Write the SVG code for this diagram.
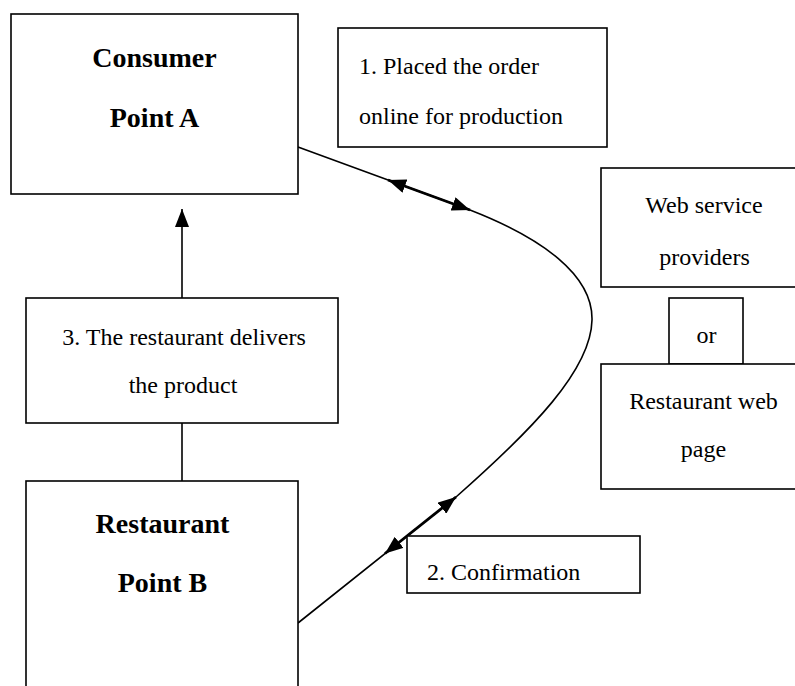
<svg xmlns="http://www.w3.org/2000/svg" width="795" height="686" viewBox="0 0 795 686">
  <style>
    .box { fill: #ffffff; stroke: #000000; stroke-width: 1.6; }
    .link { fill: none; stroke: #000000; stroke-width: 1.6; }
    .thick { fill: none; stroke: #000000; stroke-width: 2.8; }
    .txt { font-family: "Liberation Serif", "Times New Roman", serif; font-size: 24px; fill: #000000; }
    .bold { font-family: "Liberation Serif", "Times New Roman", serif; font-size: 28px; font-weight: bold; fill: #000000; }
    .mid { text-anchor: middle; }
  </style>
  <defs>
    <marker id="head" markerUnits="userSpaceOnUse" viewBox="0 0 18 14" refX="18" refY="7" markerWidth="18" markerHeight="14" orient="auto-start-reverse">
      <path d="M0,0 L18,7 L0,14 z" fill="#000000"/>
    </marker>
  </defs>

  <rect width="795" height="686" fill="#ffffff"/>

  <!-- connectors -->
  <g id="connectors">
    <path class="link" d="M298,147 L470,210 C542,238 593,275 592,320 C591,370 532,430 456,497 L298,623"/>
    <line class="thick" x1="388" y1="180" x2="470" y2="210" marker-start="url(#head)" marker-end="url(#head)"/>
    <line class="thick" x1="456" y1="497" x2="385" y2="553.5" marker-start="url(#head)" marker-end="url(#head)"/>
    <line class="link" x1="182" y1="298" x2="182" y2="209" marker-end="url(#head)"/>
    <line class="link" x1="182" y1="423" x2="182" y2="481"/>
  </g>

  <g id="consumer">
    <rect class="box" x="11" y="14" width="287" height="180"/>
    <text class="bold mid" x="154.5" y="67">Consumer</text>
    <text class="bold mid" x="154.5" y="127">Point A</text>
  </g>

  <g id="step1">
    <rect class="box" x="338" y="28" width="269" height="119"/>
    <text class="txt" x="359" y="74">1. Placed the order</text>
    <text class="txt" x="359" y="124">online for production</text>
  </g>

  <g id="step3">
    <rect class="box" x="26" y="298" width="312" height="125"/>
    <text class="txt mid" x="184" y="345">3. The restaurant delivers</text>
    <text class="txt mid" x="183" y="393">the product</text>
  </g>

  <g id="restaurant">
    <rect class="box" x="26" y="481" width="272" height="220"/>
    <text class="bold mid" x="162.5" y="533">Restaurant</text>
    <text class="bold mid" x="162.5" y="592">Point B</text>
  </g>

  <g id="step2">
    <rect class="box" x="407" y="536" width="233" height="57"/>
    <text class="txt" x="427" y="580">2. Confirmation</text>
  </g>

  <g id="web-service">
    <rect class="box" x="601" y="168" width="220" height="119"/>
    <text class="txt mid" x="704" y="213">Web service</text>
    <text class="txt mid" x="704.5" y="265">providers</text>
  </g>

  <g id="or">
    <rect class="box" x="669" y="298" width="74" height="66"/>
    <text class="txt mid" x="706.5" y="343">or</text>
  </g>

  <g id="restaurant-web">
    <rect class="box" x="601" y="364" width="220" height="125"/>
    <text class="txt mid" x="703.5" y="409">Restaurant web</text>
    <text class="txt mid" x="703.5" y="457">page</text>
  </g>
</svg>
